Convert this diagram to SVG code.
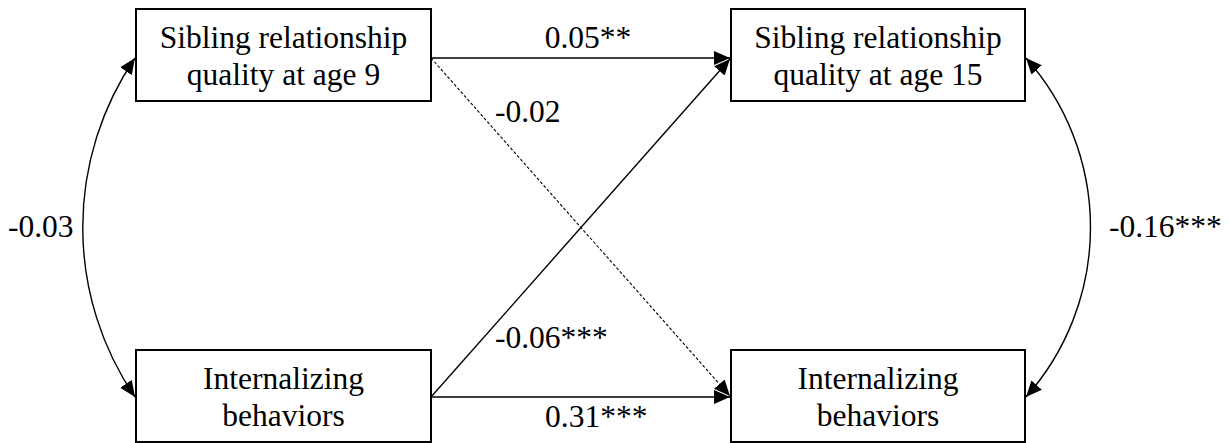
<svg xmlns="http://www.w3.org/2000/svg" width="1230" height="443" viewBox="0 0 1230 443">
<style>
.box{fill:#fff;stroke:#000;stroke-width:2}
.t{font-family:"Liberation Serif","Times New Roman",serif;font-size:31.5px;fill:#000}
.c{stroke:#000;stroke-width:1.4;fill:none}
.d{stroke:#000;stroke-width:1.1;fill:none;stroke-dasharray:3,2}
</style>
<defs>
<marker id="ah" markerUnits="userSpaceOnUse" markerWidth="17" markerHeight="15" refX="16" refY="7" orient="auto-start-reverse">
<path d="M0,0 L16,7 L0,14 z" fill="#000"/>
</marker>
</defs>
<g id="connectors">
<line class="c" x1="431" y1="58" x2="730" y2="58" marker-end="url(#ah)"/>
<line class="d" x1="431" y1="58" x2="730" y2="396" marker-end="url(#ah)"/>
<line class="c" x1="431" y1="397" x2="730" y2="397" marker-end="url(#ah)"/>
<line class="c" x1="431" y1="397" x2="730" y2="59" marker-end="url(#ah)"/>
<path class="c" d="M135,58 A301,301 0 0 0 135,397" marker-start="url(#ah)" marker-end="url(#ah)"/>
<path class="c" d="M1026,58 A255,255 0 0 1 1026,397" marker-start="url(#ah)" marker-end="url(#ah)"/>
<text class="t" x="588" y="48" text-anchor="middle">0.05**</text>
<text class="t" x="495" y="122">-0.02</text>
<text class="t" x="495" y="348">-0.06***</text>
<text class="t" x="545" y="427">0.31***</text>
<text class="t" x="8" y="237">-0.03</text>
<text class="t" x="1109" y="237">-0.16***</text>
</g>
<g id="n1">
<rect class="box" x="136" y="9" width="295" height="92"/>
<text class="t" x="283.5" y="48" text-anchor="middle">Sibling relationship</text>
<text class="t" x="283.5" y="85" text-anchor="middle">quality at age 9</text>
</g>
<g id="n2">
<rect class="box" x="731" y="9" width="294" height="92"/>
<text class="t" x="878" y="48" text-anchor="middle">Sibling relationship</text>
<text class="t" x="878" y="85" text-anchor="middle">quality at age 15</text>
</g>
<g id="n3">
<rect class="box" x="136" y="350" width="295" height="92"/>
<text class="t" x="283.5" y="389" text-anchor="middle">Internalizing</text>
<text class="t" x="283.5" y="426" text-anchor="middle">behaviors</text>
</g>
<g id="n4">
<rect class="box" x="731" y="350" width="294" height="92"/>
<text class="t" x="878" y="389" text-anchor="middle">Internalizing</text>
<text class="t" x="878" y="426" text-anchor="middle">behaviors</text>
</g>
</svg>
